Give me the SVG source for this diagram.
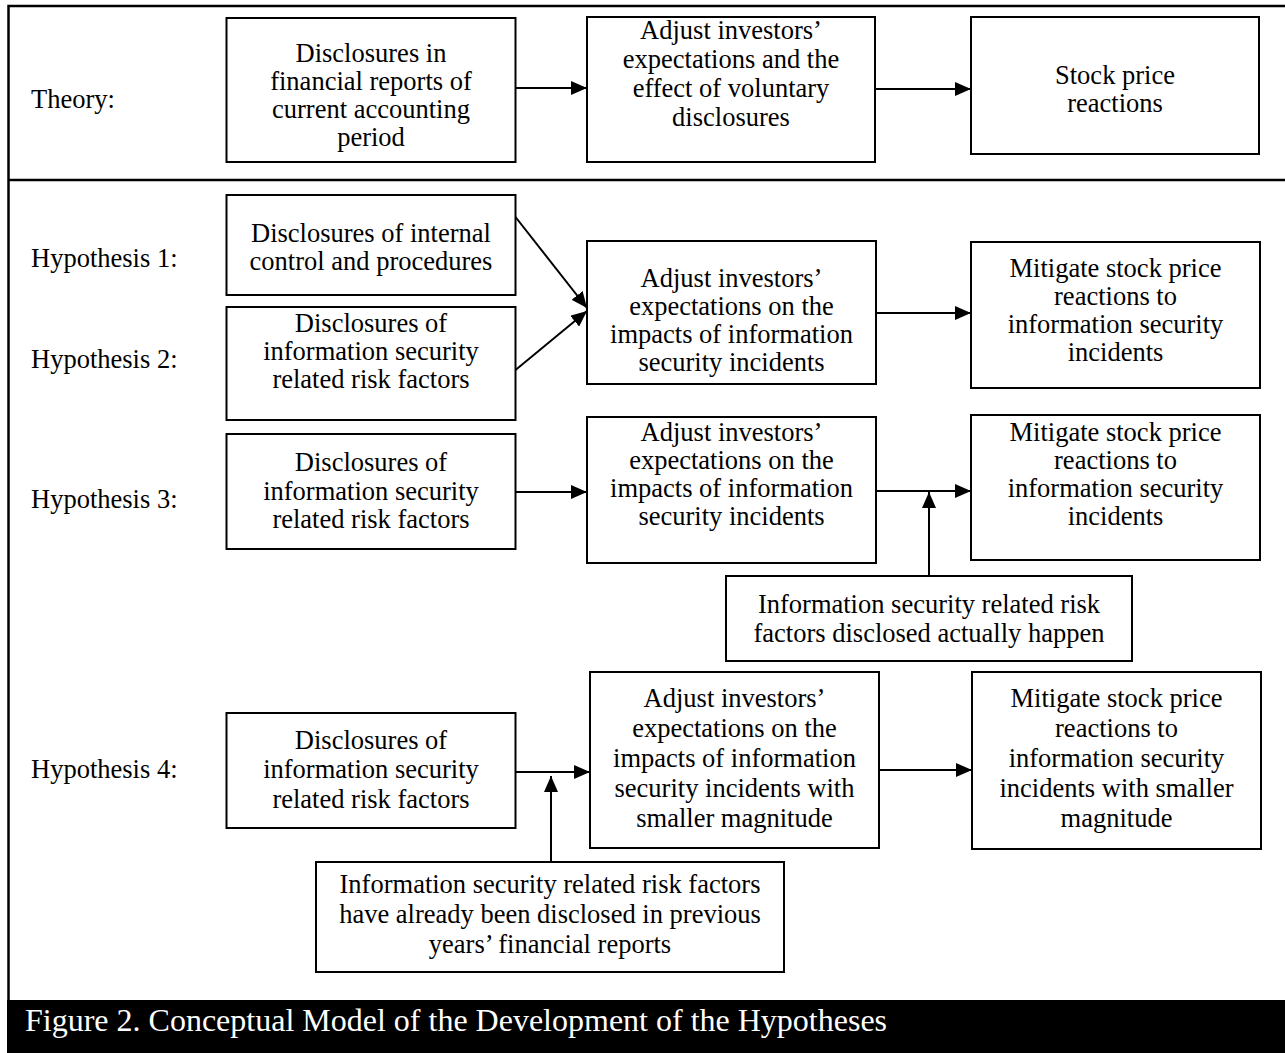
<svg xmlns="http://www.w3.org/2000/svg" width="1285" height="1053" viewBox="0 0 1285 1053">
<style>
.bx{fill:#fff;stroke:#000;stroke-width:2}
.t{font-family:"Liberation Serif","Times New Roman",serif;font-size:26.5px;fill:#000;text-anchor:middle}
.lb{font-family:"Liberation Serif","Times New Roman",serif;font-size:26.5px;fill:#000}
.cn{fill:none;stroke:#000;stroke-width:2}
.fr{fill:none;stroke:#000;stroke-width:2.5}
.cap{font-family:"Liberation Serif","Times New Roman",serif;font-size:32px;fill:#fff}
</style>
<defs>
<marker id="ah" markerUnits="userSpaceOnUse" markerWidth="16" markerHeight="14" refX="16" refY="7" orient="auto">
<path d="M0,0 L16,7 L0,14 z" fill="#000"/>
</marker>
</defs>
<rect width="1285" height="1053" fill="#fff"/>
<g id="frame">
<path class="fr" d="M1285,6 H8.5 V1000"/>
<path class="fr" d="M8.5,180 H1285"/>
<rect x="7" y="1000" width="1278" height="53" fill="#000"/>
<text class="cap" x="25" y="1031">Figure 2. Conceptual Model of the Development of the Hypotheses</text>
</g>
<g id="labels">
<text class="lb" x="31" y="108">Theory:</text>
<text class="lb" x="31" y="267">Hypothesis 1:</text>
<text class="lb" x="31" y="368">Hypothesis 2:</text>
<text class="lb" x="31" y="508">Hypothesis 3:</text>
<text class="lb" x="31" y="778">Hypothesis 4:</text>
</g>
<g id="connectors">
<line class="cn" x1="515.5" y1="88" x2="587" y2="88" marker-end="url(#ah)"/>
<line class="cn" x1="875" y1="89" x2="971" y2="89" marker-end="url(#ah)"/>
<line class="cn" x1="515.5" y1="217" x2="587" y2="308" marker-end="url(#ah)"/>
<line class="cn" x1="515.5" y1="370" x2="587" y2="311" marker-end="url(#ah)"/>
<line class="cn" x1="876" y1="313" x2="971" y2="313" marker-end="url(#ah)"/>
<line class="cn" x1="515.5" y1="492" x2="587" y2="492" marker-end="url(#ah)"/>
<line class="cn" x1="876" y1="491" x2="971" y2="491" marker-end="url(#ah)"/>
<line class="cn" x1="929" y1="576" x2="929" y2="492" marker-end="url(#ah)"/>
<line class="cn" x1="515.5" y1="772" x2="590" y2="772" marker-end="url(#ah)"/>
<line class="cn" x1="551" y1="862" x2="551" y2="776" marker-end="url(#ah)"/>
<line class="cn" x1="879" y1="770" x2="972" y2="770" marker-end="url(#ah)"/>
</g>
<g id="t1">
<rect class="bx" x="226.5" y="18" width="289" height="144"/>
<text class="t"><tspan x="371" y="62">Disclosures in</tspan><tspan x="371" y="90">financial reports of</tspan><tspan x="371" y="118">current accounting</tspan><tspan x="371" y="146">period</tspan></text>
</g>
<g id="t2">
<rect class="bx" x="587" y="17" width="288" height="145"/>
<text class="t"><tspan x="731" y="39">Adjust investors’</tspan><tspan x="731" y="68">expectations and the</tspan><tspan x="731" y="97">effect of voluntary</tspan><tspan x="731" y="126">disclosures</tspan></text>
</g>
<g id="t3">
<rect class="bx" x="971" y="17" width="288" height="137"/>
<text class="t"><tspan x="1115" y="84">Stock price</tspan><tspan x="1115" y="112">reactions</tspan></text>
</g>
<g id="h1a">
<rect class="bx" x="226.5" y="195" width="289" height="100"/>
<text class="t"><tspan x="371" y="242">Disclosures of internal</tspan><tspan x="371" y="270">control and procedures</tspan></text>
</g>
<g id="h2a">
<rect class="bx" x="226.5" y="307" width="289" height="113"/>
<text class="t"><tspan x="371" y="332">Disclosures of</tspan><tspan x="371" y="360">information security</tspan><tspan x="371" y="388">related risk factors</tspan></text>
</g>
<g id="h12b">
<rect class="bx" x="587" y="241" width="289" height="143"/>
<text class="t"><tspan x="731.5" y="287">Adjust investors’</tspan><tspan x="731.5" y="315">expectations on the</tspan><tspan x="731.5" y="343">impacts of information</tspan><tspan x="731.5" y="371">security incidents</tspan></text>
</g>
<g id="h12c">
<rect class="bx" x="971" y="242" width="289" height="146"/>
<text class="t"><tspan x="1115.5" y="277">Mitigate stock price</tspan><tspan x="1115.5" y="305">reactions to</tspan><tspan x="1115.5" y="333">information security</tspan><tspan x="1115.5" y="361">incidents</tspan></text>
</g>
<g id="h3a">
<rect class="bx" x="226.5" y="434" width="289" height="115"/>
<text class="t"><tspan x="371" y="471">Disclosures of</tspan><tspan x="371" y="500">information security</tspan><tspan x="371" y="528">related risk factors</tspan></text>
</g>
<g id="h3b">
<rect class="bx" x="587" y="417" width="289" height="146"/>
<text class="t"><tspan x="731.5" y="441">Adjust investors’</tspan><tspan x="731.5" y="469">expectations on the</tspan><tspan x="731.5" y="497">impacts of information</tspan><tspan x="731.5" y="525">security incidents</tspan></text>
</g>
<g id="h3c">
<rect class="bx" x="971" y="415" width="289" height="145"/>
<text class="t"><tspan x="1115.5" y="441">Mitigate stock price</tspan><tspan x="1115.5" y="469">reactions to</tspan><tspan x="1115.5" y="497">information security</tspan><tspan x="1115.5" y="525">incidents</tspan></text>
</g>
<g id="h3m">
<rect class="bx" x="726" y="576" width="406" height="85"/>
<text class="t"><tspan x="929" y="613">Information security related risk</tspan><tspan x="929" y="642">factors disclosed actually happen</tspan></text>
</g>
<g id="h4a">
<rect class="bx" x="226.5" y="713" width="289" height="115"/>
<text class="t"><tspan x="371" y="749">Disclosures of</tspan><tspan x="371" y="778">information security</tspan><tspan x="371" y="808">related risk factors</tspan></text>
</g>
<g id="h4b">
<rect class="bx" x="590" y="672" width="289" height="176"/>
<text class="t"><tspan x="734.5" y="707">Adjust investors’</tspan><tspan x="734.5" y="737">expectations on the</tspan><tspan x="734.5" y="767">impacts of information</tspan><tspan x="734.5" y="797">security incidents with</tspan><tspan x="734.5" y="827">smaller magnitude</tspan></text>
</g>
<g id="h4c">
<rect class="bx" x="972" y="672" width="289" height="177"/>
<text class="t"><tspan x="1116.5" y="707">Mitigate stock price</tspan><tspan x="1116.5" y="737">reactions to</tspan><tspan x="1116.5" y="767">information security</tspan><tspan x="1116.5" y="797">incidents with smaller</tspan><tspan x="1116.5" y="827">magnitude</tspan></text>
</g>
<g id="h4m">
<rect class="bx" x="316" y="862" width="468" height="110"/>
<text class="t"><tspan x="550" y="893">Information security related risk factors</tspan><tspan x="550" y="923">have already been disclosed in previous</tspan><tspan x="550" y="953">years’ financial reports</tspan></text>
</g>
</svg>
